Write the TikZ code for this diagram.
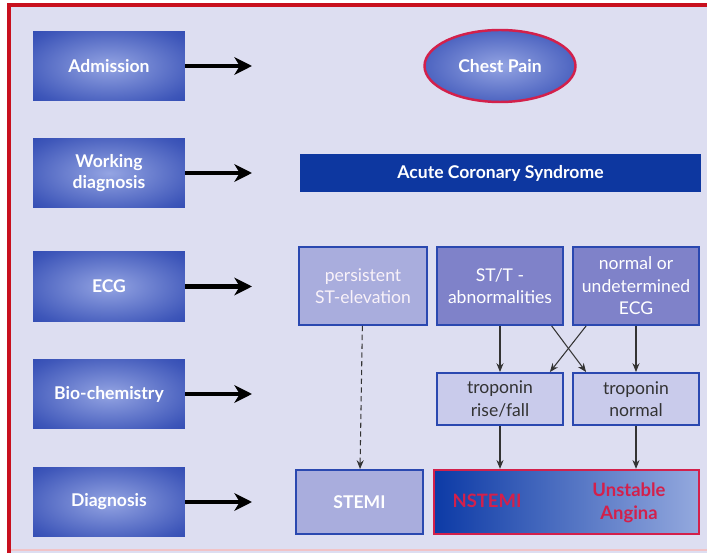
\documentclass[tikz,border=0pt]{standalone}
\usepackage{fontspec}
\setmainfont{Lato}
\usetikzlibrary{shapes.geometric,arrows.meta}
\definecolor{bgcol}{HTML}{DDDEF1}
\definecolor{framered}{HTML}{C8101E}
\definecolor{stagein}{HTML}{95A5E3}
\definecolor{stageout}{HTML}{1A36A8}
\definecolor{acsblue}{HTML}{0D37A0}
\definecolor{edgeblue}{HTML}{2A48B0}
\definecolor{paleviolet}{HTML}{A9ADDD}
\definecolor{midviolet}{HTML}{7F82C9}
\definecolor{lightviolet}{HTML}{C9CBEB}
\definecolor{dxred}{HTML}{D3204B}
\definecolor{nstleft}{HTML}{0C3AA6}
\definecolor{nstright}{HTML}{94A9DE}
\pgfdeclareradialshading{stageglow}{\pgfpoint{0bp}{0bp}}{color(0bp)=(stagein);
	color(6bp)=(stagein!85!stageout); color(30bp)=(stagein!30!stageout);
	color(48bp)=(stageout); color(60bp)=(stageout)}
\tikzset{
	stage/.style={rectangle, shading=stageglow, minimum width=3.04cm, minimum height=1.4cm,
		inner sep=0pt, text=white, font=\bfseries, align=center},
	findbox/.style={rectangle, draw=edgeblue, line width=1.1pt, inner sep=0pt, align=center},
	bigarrow/.style={line width=2.4pt, -{Stealth[length=10pt,width=10pt,inset=3pt]}},
	thinarrow/.style={draw=black!80, line width=0.6pt, -{Stealth[length=5pt,width=4pt]}}
}
\begin{document}
\begin{tikzpicture}[x=0.02cm, y=-0.02cm, font=\fontsize{10}{12.8}\selectfont]
	\useasboundingbox (0,0) rectangle (707,553);
	% background and frame
	\fill[bgcol] (11,7) rectangle (707,553);
	\draw[framered!25, line width=0.8pt] (11,550) -- (707,550);
	\draw[framered, line width=2.3pt] (9,553) -- (9,5) -- (707,5);
	% stages on the left
	\foreach \n/\t/\y in {adm/Admission/66, work/{Working\\diagnosis}/173, ecg/ECG/286.5,
		bio/Bio-chemistry/394, diag/Diagnosis/502} {
		\node[stage] (\n) at (109,\y) {\t};
		\coordinate (\n end) at (252,\y);
		\draw[bigarrow] (\n.east) -- (\n end);
	}
	% top row
	\node[ellipse, shading=stageglow, draw=dxred, line width=1.4pt, minimum width=3.02cm,
		minimum height=1.44cm, inner sep=0pt, text=white, font=\bfseries] (chest) at (500,66) {Chest Pain};
	\node[rectangle, fill=acsblue, minimum width=8.02cm, minimum height=0.76cm,
		text=white, font=\bfseries] (acs) at (500.5,173) {Acute Coronary Syndrome};
	% ECG findings
	\node[findbox, fill=paleviolet, text=white!95!violet, minimum width=2.56cm,
		minimum height=1.56cm] (stelev) at (363,286) {persistent\\ST-elevation};
	\node[findbox, fill=midviolet, text=white, minimum width=2.52cm,
		minimum height=1.56cm] (stt) at (500,286) {ST/T -\\abnormalities};
	\node[findbox, fill=midviolet, text=white, minimum width=2.52cm,
		minimum height=1.56cm] (normal) at (636,286) {normal or\\undetermined\\ECG};
	% troponin
	\node[findbox, fill=lightviolet, text=black!80, minimum width=2.52cm,
		minimum height=1.04cm] (tropup) at (500,399) {troponin\\rise/fall};
	\node[findbox, fill=lightviolet, text=black!80, minimum width=2.52cm,
		minimum height=1.04cm] (tropnorm) at (636,399) {troponin\\normal};
	% diagnosis
	\node[findbox, fill=paleviolet, text=white, font=\bfseries, minimum width=2.54cm,
		minimum height=1.28cm] (stemi) at (359.5,502) {STEMI};
	\node[rectangle, left color=nstleft, right color=nstright, draw=dxred, line width=1.3pt,
		minimum width=5.3cm, minimum height=1.28cm, inner sep=0pt] (nstemi) at (566.5,502) {};
	\node[text=dxred, font=\fontsize{10.5}{13}\selectfont\bfseries] (nst) at (487,501) {NSTEMI};
	\node[text=dxred, font=\fontsize{10.5}{13}\selectfont\bfseries, align=center] (ua) at (629,503) {Unstable\\Angina};
	% connectors
	\draw[thinarrow, densely dashed] (stelev) -- (stemi);
	\draw[thinarrow] (stt) -- (tropup);
	\draw[thinarrow] (normal) -- (tropnorm);
	\draw[thinarrow] ([xshift=-7pt]stt.south east) -- ([xshift=8pt]tropnorm.north west);
	\draw[thinarrow] ([xshift=8pt]normal.south west) -- ([xshift=-8pt]tropup.north east);
	\draw[thinarrow] (tropup) -- (tropup |- nstemi.north);
	\draw[thinarrow] (tropnorm) -- (tropnorm |- nstemi.north);
\end{tikzpicture}
\end{document}
